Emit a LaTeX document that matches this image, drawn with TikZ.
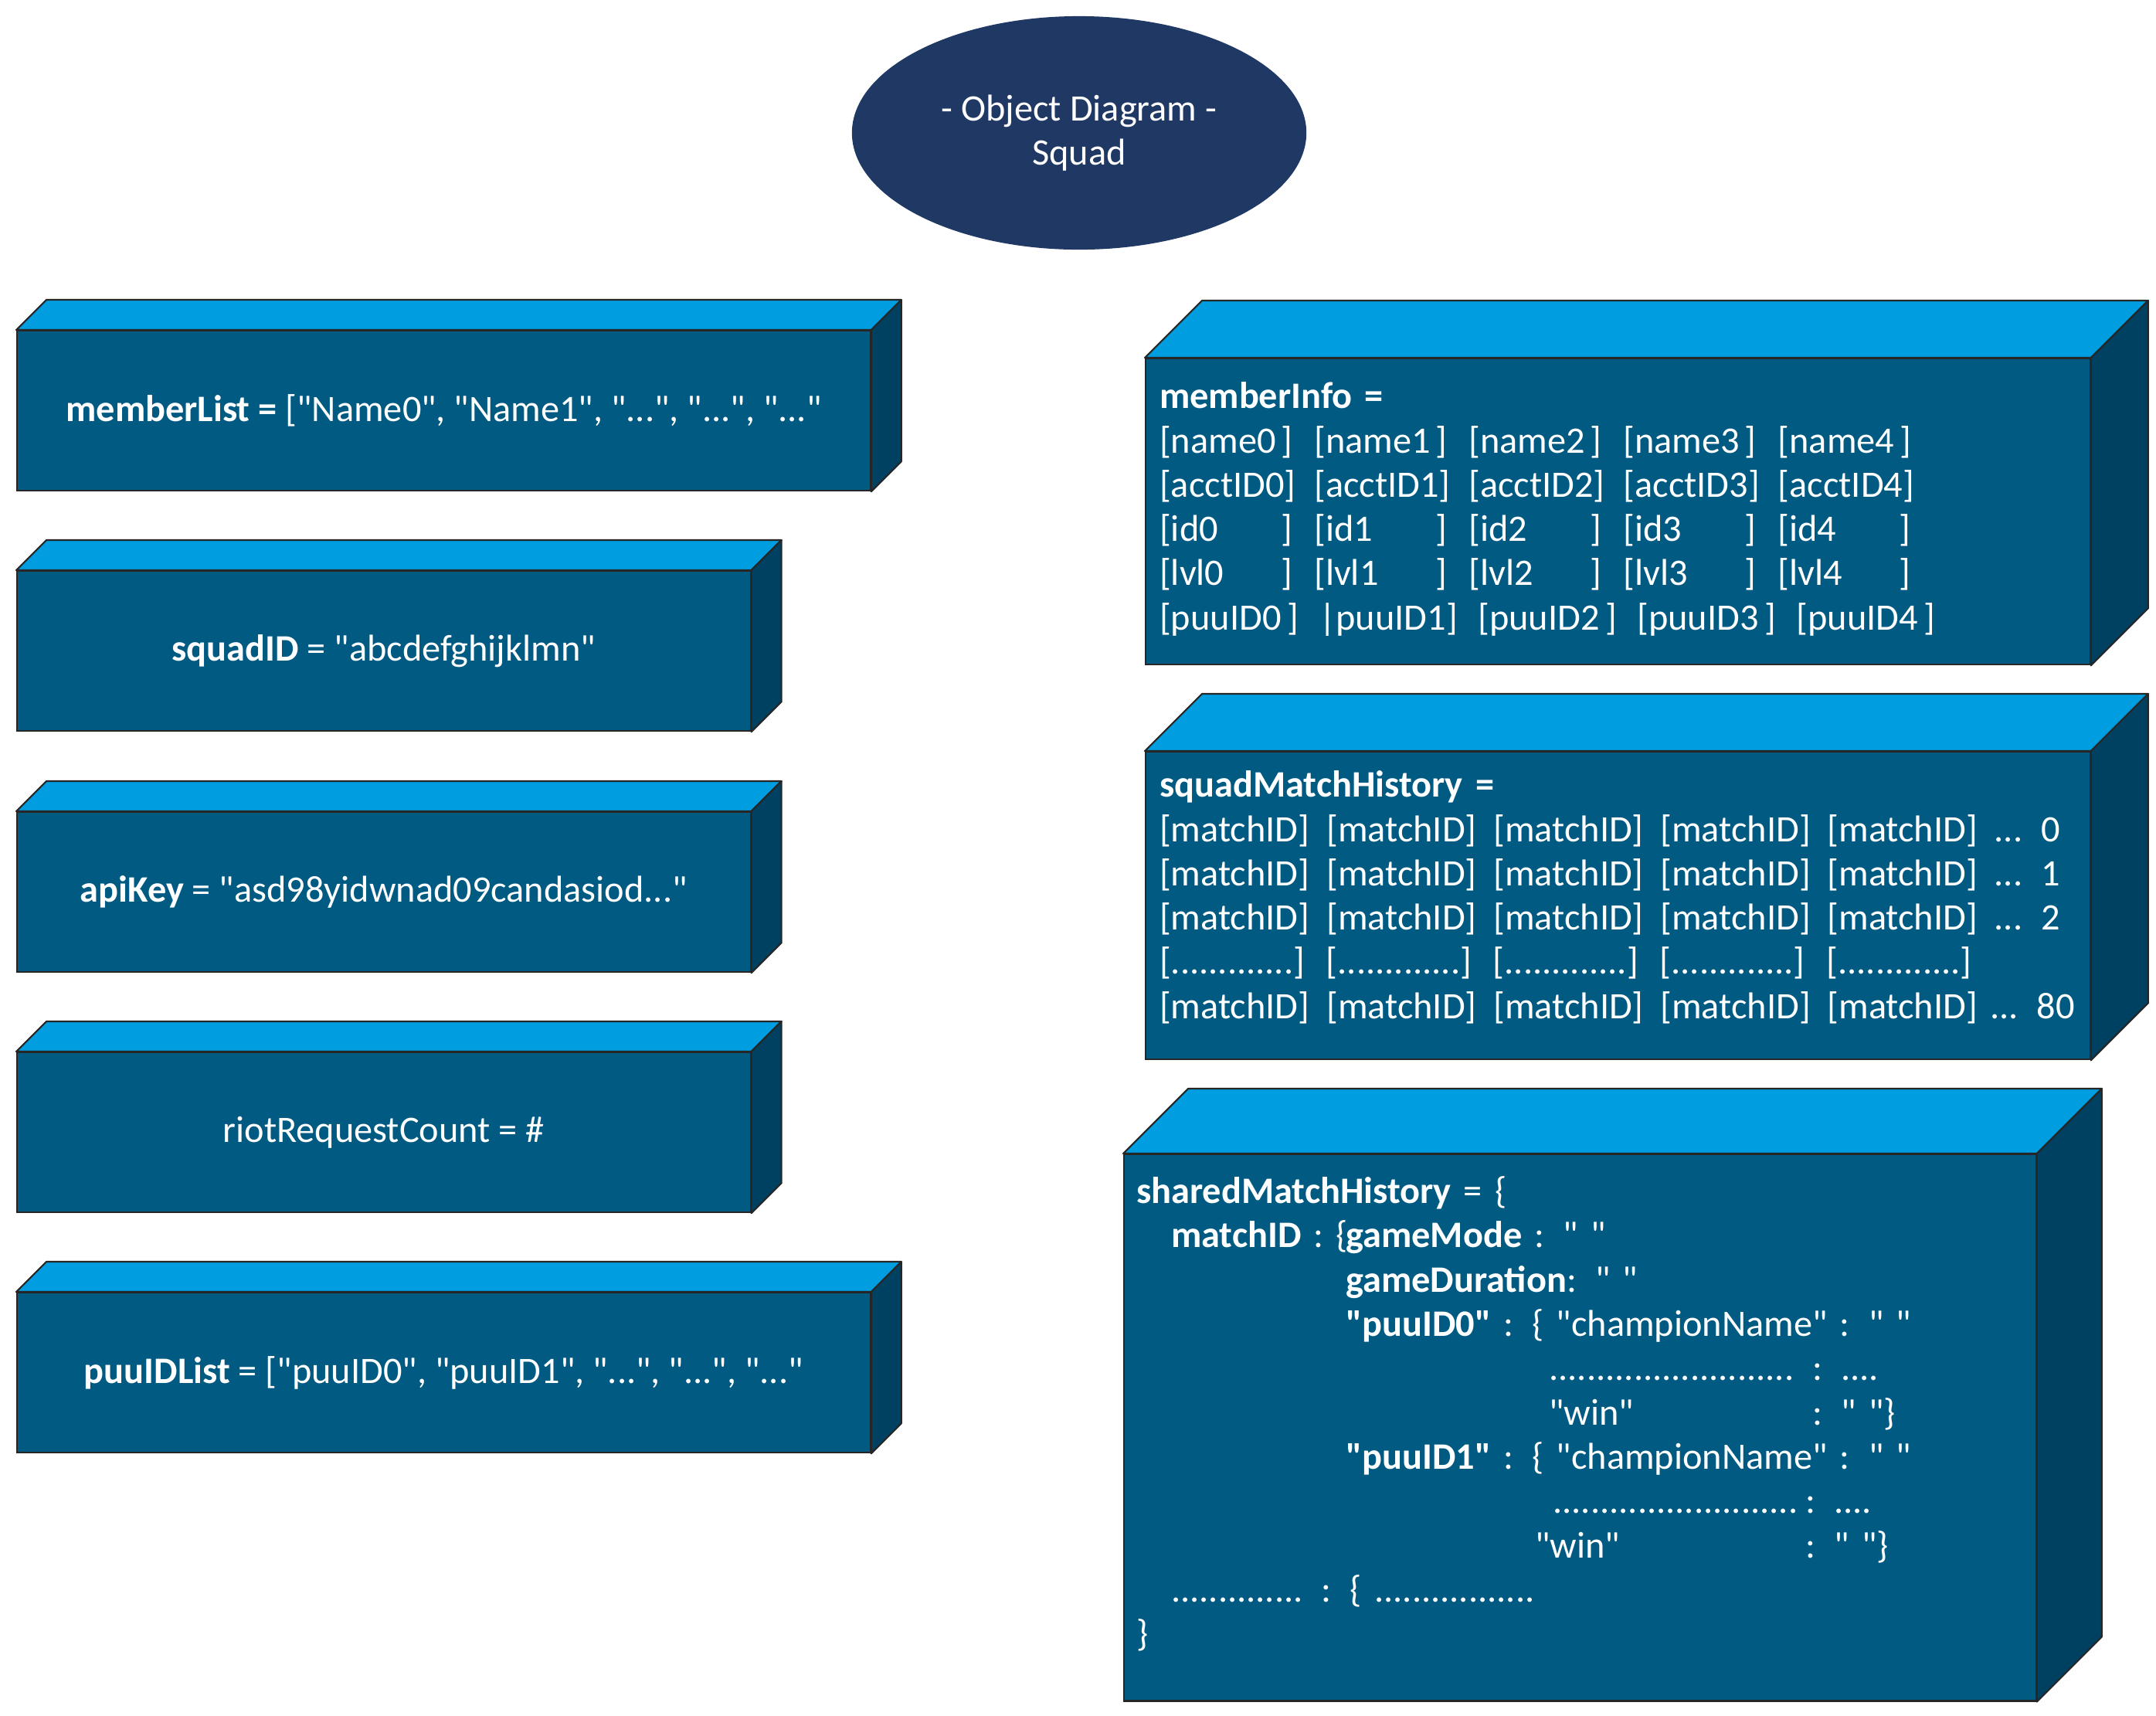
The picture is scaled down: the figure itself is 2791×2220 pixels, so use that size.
\documentclass[tikz,border=0pt]{standalone}
\usepackage{fontspec}
\setmainfont{Carlito}[Ligatures=TeXOff]
\usetikzlibrary{shapes.geometric}
\definecolor{boxfront}{RGB}{0,90,130}
\definecolor{boxtop}{RGB}{0,158,224}
\definecolor{boxside}{RGB}{0,64,96}
\definecolor{titlefill}{RGB}{32,56,100}
\tikzstyle{titleoval} = [ellipse, fill=titlefill, text=white, align=center, minimum width=5.88cm, minimum height=3.02cm, inner sep=0pt]
\tikzstyle{frontface} = [rectangle, draw=black!85, line width=0.6pt, fill=boxfront, text=white, anchor=north west, inner sep=0pt]
\tikzstyle{fieldbox} = [frontface, align=center, minimum height=2.07cm]
\tikzstyle{listbox} = [frontface, align=left, inner xsep=0.18cm]
\tikzstyle{topface} = [draw=black!85, line width=0.6pt, fill=boxtop, line join=round]
\tikzstyle{sideface} = [draw=black!85, line width=0.6pt, fill=boxside, line join=round]
\newcommand{\slot}[1]{\makebox[1.72cm][s]{#1\hfill]}\hspace{0.28cm}}
\newcommand{\pslot}[1]{\makebox[1.8cm][s]{#1\hfill]}\hspace{0.26cm}}
\newcommand{\mslot}[1]{\makebox[2.16cm][l]{#1}}

\begin{document}
\begin{tikzpicture}[x=0.01cm, y=-0.01cm, font=\fontsize{13.75pt}{16.3pt}\selectfont]

    \useasboundingbox (0,0) rectangle (2791,2220);

    \node (title) [titleoval] at (1397,172) {- Object Diagram -\\Squad};

    \node (memberlist) [fieldbox, minimum width=11.04cm] at (21,427) {\textbf{memberList =} ["Name0", "Name1", "...", "...", "..."};
    \node (squadid) [fieldbox, minimum width=9.49cm] at (21,738) {\textbf{squadID} = "abcdefghijklmn"};
    \node (apikey) [fieldbox, minimum width=9.49cm] at (21,1050) {\textbf{apiKey} = "asd98yidwnad09candasiod..."};
    \node (riotcount) [fieldbox, minimum width=9.49cm] at (21,1361) {riotRequestCount = \#};
    \node (puuidlist) [fieldbox, minimum width=11.04cm] at (21,1672) {\textbf{puuIDList} = ["puuID0", "puuID1", "...", "...", "..."};

    \node (memberinfo) [listbox, text width=11.86cm, minimum height=3.96cm] at (1482,463) {
        \textbf{memberInfo =}\\
        \slot{[name0}\slot{[name1}\slot{[name2}\slot{[name3}\slot{[name4}\\
        \slot{[acctID0}\slot{[acctID1}\slot{[acctID2}\slot{[acctID3}\slot{[acctID4}\\
        \slot{[id0}\slot{[id1}\slot{[id2}\slot{[id3}\slot{[id4}\\
        \slot{[lvl0}\slot{[lvl1}\slot{[lvl2}\slot{[lvl3}\slot{[lvl4}\\
        \pslot{[puuID0}\pslot{|puuID1}\pslot{[puuID2}\pslot{[puuID3}\pslot{[puuID4}\\[-0.43cm]
        \mbox{}};

    \node (squadhistory) [listbox, text width=11.86cm, minimum height=3.98cm] at (1482,972) {
        \textbf{squadMatchHistory =}\\
        \mslot{[matchID]}\mslot{[matchID]}\mslot{[matchID]}\mslot{[matchID]}\mslot{[matchID]}... 0\\
        \mslot{[matchID]}\mslot{[matchID]}\mslot{[matchID]}\mslot{[matchID]}\mslot{[matchID]}... 1\\
        \mslot{[matchID]}\mslot{[matchID]}\mslot{[matchID]}\mslot{[matchID]}\mslot{[matchID]}... 2\\
        \mslot{[.............]}\mslot{[.............]}\mslot{[.............]}\mslot{[.............]}\mslot{[.............]}\\
        \mslot{[matchID]}\mslot{[matchID]}\mslot{[matchID]}\mslot{[matchID]}[matchID] ... 80\\[-0.29cm]
        \mbox{}};

    \node (sharedhistory) [listbox, inner xsep=0.16cm, text width=11.48cm, minimum width=11.8cm, minimum height=7.07cm] at (1454,1493) {
        \textbf{sharedMatchHistory} = \{\\
        \hspace*{0.45cm}\makebox[2.26cm][l]{\textbf{matchID} : \{}\textbf{gameMode} : " "\\
        \hspace*{2.71cm}\textbf{gameDuration}: " "\\
        \hspace*{2.71cm}\textbf{"puuID0"} : \{ "championName" : " "\\
        \hspace*{5.34cm}\makebox[3.41cm][l]{..........................}: ....\\
        \hspace*{5.34cm}\makebox[3.41cm][l]{"win"}: " "\}\\
        \hspace*{2.71cm}\textbf{"puuID1"} : \{ "championName" : " "\\
        \hspace*{5.39cm}\makebox[3.27cm][l]{..........................}: ....\\
        \hspace*{5.16cm}\makebox[3.50cm][l]{"win"}: " "\}\\
        \hspace*{0.45cm}.............. : \{ .................\\
        \}\\[-0.15cm]
        \mbox{}};

    \foreach \n/\d in {memberlist/39, squadid/39, apikey/39, riotcount/39, puuidlist/39, memberinfo/74, squadhistory/74, sharedhistory/84} {
        \draw [topface] (\n.north west) -- ++(\d,-\d) -- ([shift={(\d,-\d)}]\n.north east) -- (\n.north east) -- cycle;
        \draw [sideface] (\n.north east) -- ++(\d,-\d) -- ([shift={(\d,-\d)}]\n.south east) -- (\n.south east) -- cycle;
    }

\end{tikzpicture}
\end{document}
